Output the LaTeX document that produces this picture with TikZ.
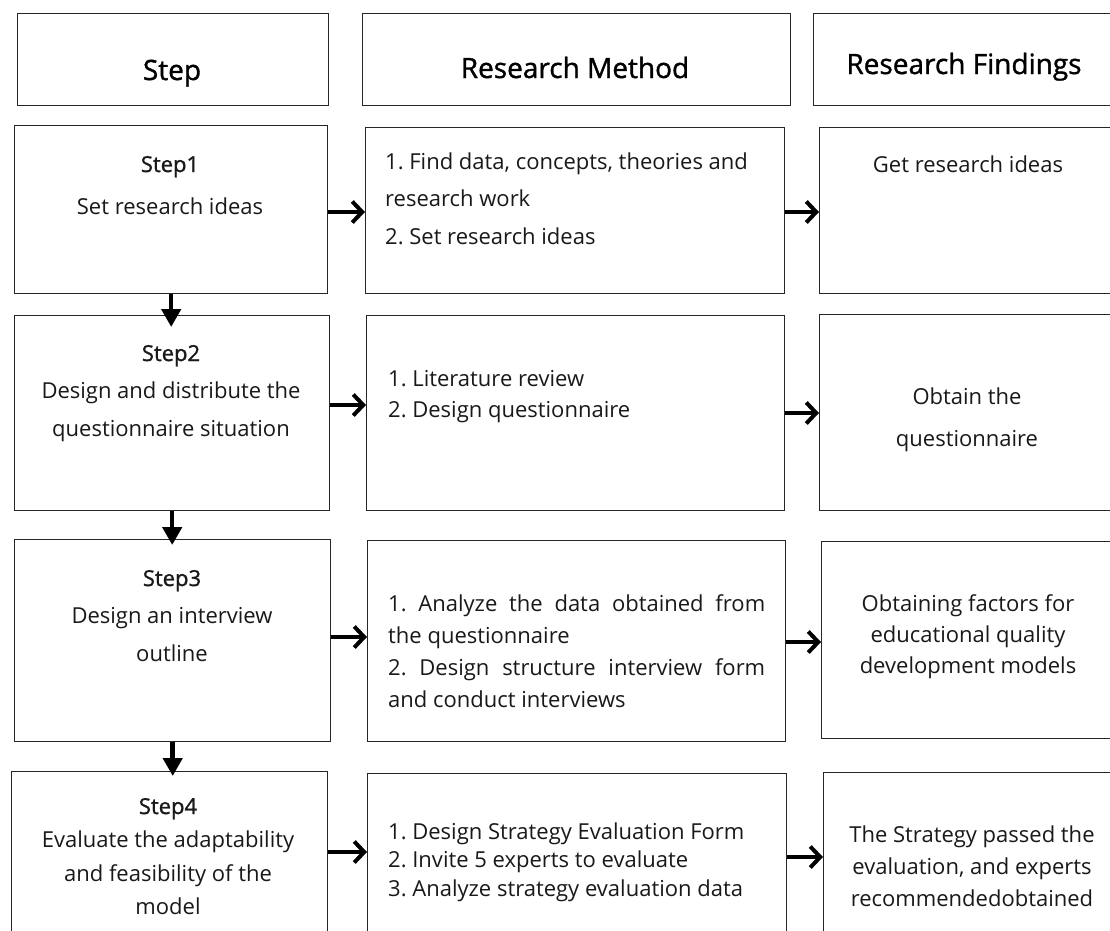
\documentclass[tikz,border=0pt]{standalone}
\usepackage{fontspec}
\setmainfont{Open Sans}
\newfontfamily\semib[FakeBold=1.2]{Open Sans}
\usetikzlibrary{arrows.meta}
\frenchspacing
\begin{document}
\begin{tikzpicture}[x=1pt,y=-1pt,
  cellbox/.style={draw=black!85, line width=1.4pt, anchor=north west, inner sep=0pt, fill=white},
  body/.style={font=\fontsize{22}{#1}\selectfont, text=black!90, inner sep=0pt, anchor=base, align=center},
  bodyl/.style={body=#1, anchor=base west, align=left},
  hdr/.style={font=\semib\fontsize{28}{32}\selectfont, text=black, inner sep=0pt, anchor=base},
  flow/.style={line width=4pt, -{Straight Barb[length=10pt, width=21pt]}},
  down/.style={line width=4.5pt, -{Triangle[length=18pt, width=19pt]}}
]
\useasboundingbox (0,0) rectangle (1110,930);
\clip (0,0) rectangle (1110,930);
\fill[white] (0,0) rectangle (1110,930);

% column headers
\node[cellbox, minimum width=311pt, minimum height=92pt] (hs) at (17,13) {};
\node[cellbox, minimum width=428pt, minimum height=92pt] (hm) at (362,13) {};
\node[cellbox, minimum width=330pt, minimum height=92pt] (hf) at (813,13) {};
\node[hdr] (hst) at (172,80) {Step};
\node[hdr] (hmt) at (575,78) {Research Method};
\node[hdr] (hft) at (964,74) {Research Findings};

% row 1 (text nodes are placed by the baseline of their last line)
\node[cellbox, minimum width=313pt, minimum height=168pt] (s1) at (14,125) {};
\node[cellbox, minimum width=419pt, minimum height=166pt] (m1) at (365,127) {};
\node[cellbox, minimum width=330pt, minimum height=166pt] (f1) at (819,127) {};
\node[body=42] (ts1) at (170,214) {{\semib Step1}\\Set research ideas};
\node[bodyl=37.5] (tm1) at (385,244) {1. Find data, concepts, theories and\\research work\\2. Set research ideas};
\node[body=32] (tf1) at (968,172) {Get research ideas};

% row 2
\node[cellbox, minimum width=315pt, minimum height=195pt] (s2) at (14,315) {};
\node[cellbox, minimum width=418pt, minimum height=195pt] (m2) at (366,315) {};
\node[cellbox, minimum width=330pt, minimum height=196pt] (f2) at (819,314) {};
\node[body=37.5] (ts2) at (171,436) {{\semib Step2}\\Design and distribute the\\questionnaire situation};
\node[bodyl=31] (tm2) at (388,417) {1. Literature review\\2. Design questionnaire};
\node[body=42] (tf2) at (967,446) {Obtain the\\questionnaire};

% row 3
\node[cellbox, minimum width=316pt, minimum height=202pt] (s3) at (14,539) {};
\node[cellbox, minimum width=418pt, minimum height=201pt] (m3) at (367,540) {};
\node[cellbox, minimum width=330pt, minimum height=197pt] (f3) at (821,541) {};
\node[body=37.5] (ts3) at (172,661) {{\semib Step3}\\Design an interview\\outline};
\node[bodyl=32] (tm3) at (388,707) {\makebox[377pt][s]{1. Analyze the data obtained from}\\the questionnaire\\\makebox[377pt][s]{2. Design structure interview form}\\and conduct interviews};
\node[body=31] (tf3) at (968,673) {Obtaining factors for\\educational quality\\development models};

% row 4
\node[cellbox, minimum width=316pt, minimum height=200pt] (s4) at (11,771) {};
\node[cellbox, minimum width=419pt, minimum height=200pt] (m4) at (367,773) {};
\node[cellbox, minimum width=330pt, minimum height=200pt] (f4) at (823,772) {};
\node[body=33.5] (ts4) at (168,914.5) {{\semib Step4}\\Evaluate the adaptability\\and feasibility of the\\model};
\node[bodyl=28.5] (tm4) at (388,896) {1. Design Strategy Evaluation Form\\2. Invite 5 experts to evaluate\\3. Analyze strategy evaluation data};
\node[body=32] (tf4) at (972,906) {The Strategy passed the\\evaluation, and experts\\recommendedobtained};

% connectors across each row
\draw[flow] (s1.east |- 0,212) -- (m1.west |- 0,212);
\draw[flow] (m1.east |- 0,212) -- (f1.west |- 0,212);
\draw[flow] (s2.east |- 0,405) -- (m2.west |- 0,405);
\draw[flow] (m2.east |- 0,413) -- (f2.west |- 0,413);
\draw[flow] (s3.east |- 0,637) -- (m3.west |- 0,637);
\draw[flow] (m3.east |- 0,642) -- (f3.west |- 0,642);
\draw[flow] (s4.east |- 0,852) -- (m4.west |- 0,852);
\draw[flow] (m4.east |- 0,857) -- (f4.west |- 0,857);

% connectors between steps
\draw[down, shorten >=-12pt] (s1.south) -- (s1.south |- s2.north);
\draw[down, shorten >=-6pt] (s2.south) -- (s2.south |- s3.north);
\draw[down, shorten >=-5pt] (s3.south) -- (s3.south |- s4.north);
\end{tikzpicture}
\end{document}
